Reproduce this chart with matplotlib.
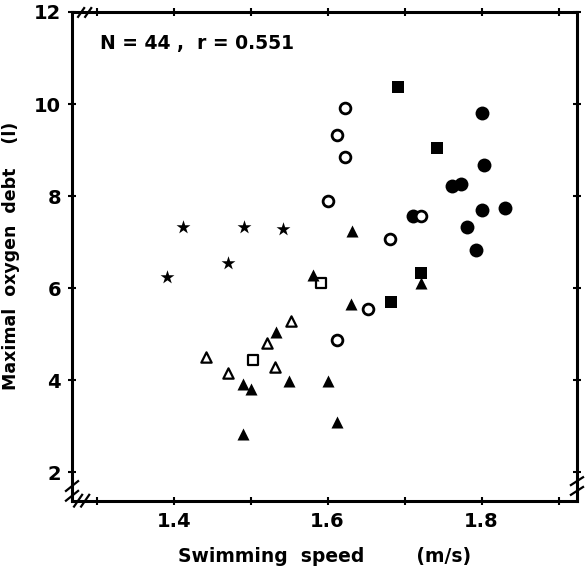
import matplotlib
matplotlib.use("Agg")
import matplotlib.pyplot as plt

plt.rcParams['font.family'] = ['DejaVu Sans']

# swimming speed (m/s) and maximal oxygen debt (l), one group per symbol
star_x = [1.392, 1.412, 1.470, 1.491, 1.542]
star_y = [6.24, 7.33, 6.55, 7.33, 7.28]

open_tri_x = [1.442, 1.470, 1.521, 1.532, 1.552]
open_tri_y = [4.51, 4.16, 4.81, 4.28, 5.28]

open_sq_x = [1.503, 1.591]
open_sq_y = [4.43, 6.12]

fill_tri_x = [1.533, 1.490, 1.500, 1.550, 1.601, 1.490, 1.612, 1.631, 1.581, 1.632, 1.722]
fill_tri_y = [5.04, 3.91, 3.80, 3.98, 3.98, 2.84, 3.09, 5.65, 6.28, 7.25, 6.10]

fill_sq_x = [1.692, 1.742, 1.682, 1.722]
fill_sq_y = [10.38, 9.04, 5.70, 6.32]

open_circ_x = [1.623, 1.612, 1.623, 1.601, 1.681, 1.722, 1.653, 1.612]
open_circ_y = [9.92, 9.33, 8.85, 7.90, 7.07, 7.57, 5.54, 4.88]

fill_circ_x = [1.711, 1.801, 1.803, 1.762, 1.773, 1.801, 1.831, 1.781, 1.793]
fill_circ_y = [7.57, 9.81, 8.67, 8.22, 8.26, 7.70, 7.75, 7.32, 6.83]

fig = plt.figure(figsize=(5.86, 5.70), dpi=100)
ax = fig.add_axes([0.1229, 0.1216, 0.8617, 0.8574])

ax.scatter(star_x, star_y, marker='*', s=110, c='black', linewidths=0)
ax.scatter(open_tri_x, open_tri_y, marker='^', s=55, facecolors='white',
           edgecolors='black', linewidths=1.6)
ax.scatter(open_sq_x, open_sq_y, marker='s', s=55, facecolors='white',
           edgecolors='black', linewidths=1.6)
ax.scatter(fill_tri_x, fill_tri_y, marker='^', s=75, c='black', linewidths=0)
ax.scatter(fill_sq_x, fill_sq_y, marker='s', s=65, c='black', linewidths=0)
ax.scatter(fill_circ_x, fill_circ_y, marker='o', s=100, c='black', linewidths=0)
ax.scatter(open_circ_x, open_circ_y, marker='o', s=60, facecolors='white',
           edgecolors='black', linewidths=2.0, zorder=3)

ax.set_xlim(1.268, 1.924)
ax.set_ylim(1.38, 12)

ax.set_xticks([1.3, 1.4, 1.5, 1.6, 1.7, 1.8, 1.9])
ax.set_xticklabels(['', '1.4', '', '1.6', '', '1.8', ''])
ax.set_yticks([2, 4, 6, 8, 10, 12])
ax.set_yticklabels(['2', '4', '6', '8', '10', '12'])
ax.tick_params(direction='inout', length=6, width=1.5, labelsize=14,
               top=True, right=True, pad=5)
for lab in ax.get_xticklabels() + ax.get_yticklabels():
    lab.set_fontweight('bold')

for sp in ax.spines.values():
    sp.set_linewidth(2.2)

# axis break marks
kw = dict(transform=ax.transAxes, color='black', lw=1.6, clip_on=False)
for dy in (0.010, 0.030):
    ax.plot([-0.012, 0.012], [dy - 0.010, dy + 0.010], **kw)
    ax.plot([0.988, 1.012], [dy + 0.002, dy + 0.018], **kw)
for dx in (0.012, 0.026):
    ax.plot([dx - 0.008, dx + 0.008], [-0.012, 0.012], **kw)
    ax.plot([dx, dx + 0.012], [0.990, 1.008], **kw)

ax.text(0.055, 0.955, 'N = 44 ,  r = 0.551', transform=ax.transAxes,
        fontsize=13.5, fontweight='bold', va='top', ha='left')

ax.set_xlabel('Swimming  speed        (m/s)', fontsize=13.5, fontweight='bold',
              labelpad=12)
ax.set_ylabel('Maximal  oxygen  debt    (l)', fontsize=12.5, fontweight='bold',
              labelpad=10)

fig.savefig('out.png', dpi=100)
